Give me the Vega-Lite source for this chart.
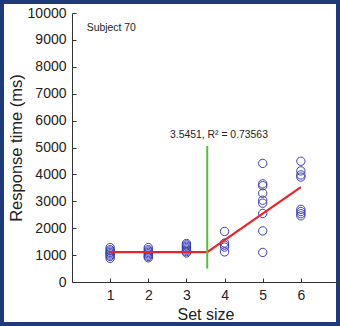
{
  "$schema": "https://vega.github.io/schema/vega-lite/v6.json",
  "width": 340,
  "height": 326,
  "autosize": {"type": "none"},
  "padding": 0,
  "background": "white",
  "config": {
    "view": {"fill": "white", "stroke": "#1f3a78", "strokeWidth": 8},
    "font": "Liberation Sans",
    "axis": {"grid": false, "labelOverlap": false, "domainColor": "#333", "tickColor": "#333", "labelColor": "#222", "titleColor": "#222", "titleFontWeight": "normal", "labelFont": "Liberation Sans", "titleFont": "Liberation Sans"}
  },
  "datasets": {
    "pts": [
      {"set": 1, "rt": 880}, {"set": 1, "rt": 950}, {"set": 1, "rt": 1000}, {"set": 1, "rt": 1050}, {"set": 1, "rt": 1100}, {"set": 1, "rt": 1150}, {"set": 1, "rt": 1200}, {"set": 1, "rt": 1280},
      {"set": 2, "rt": 900}, {"set": 2, "rt": 950}, {"set": 2, "rt": 1000}, {"set": 2, "rt": 1050}, {"set": 2, "rt": 1100}, {"set": 2, "rt": 1150}, {"set": 2, "rt": 1200}, {"set": 2, "rt": 1280},
      {"set": 3, "rt": 1080}, {"set": 3, "rt": 1130}, {"set": 3, "rt": 1180}, {"set": 3, "rt": 1230}, {"set": 3, "rt": 1280}, {"set": 3, "rt": 1330}, {"set": 3, "rt": 1380}, {"set": 3, "rt": 1430},
      {"set": 4, "rt": 1880}, {"set": 4, "rt": 1450}, {"set": 4, "rt": 1370}, {"set": 4, "rt": 1300}, {"set": 4, "rt": 1120},
      {"set": 5, "rt": 4410}, {"set": 5, "rt": 3650}, {"set": 5, "rt": 3580}, {"set": 5, "rt": 3300}, {"set": 5, "rt": 3040}, {"set": 5, "rt": 2930}, {"set": 5, "rt": 2550}, {"set": 5, "rt": 1900}, {"set": 5, "rt": 1100},
      {"set": 6, "rt": 4490}, {"set": 6, "rt": 4130}, {"set": 6, "rt": 3980}, {"set": 6, "rt": 3900}, {"set": 6, "rt": 2700}, {"set": 6, "rt": 2620}, {"set": 6, "rt": 2540}, {"set": 6, "rt": 2460}
    ],
    "fit": [
      {"set": 1, "rt": 1110}, {"set": 3.5451, "rt": 1110}, {"set": 6, "rt": 3530}
    ]
  },
  "encoding": {
    "x": {"type": "quantitative", "title": "Set size",
      "scale": {"domain": [0, 7], "range": [72, 339], "nice": false, "zero": false},
      "axis": {"orient": "bottom", "offset": -44, "values": [1, 2, 3, 4, 5, 6], "labelOverlap": false, "tickSize": -4, "labelPadding": 10, "labelFontSize": 14, "titleFontSize": 16, "titlePadding": 4}},
    "y": {"type": "quantitative", "title": "Response time (ms)",
      "scale": {"domain": [0, 10000], "range": [282, 13], "nice": false},
      "axis": {"orient": "left", "offset": -72, "values": [0, 1000, 2000, 3000, 4000, 5000, 6000, 7000, 8000, 9000, 10000], "format": "d", "labelOverlap": false, "labelFlush": false, "tickSize": -4, "labelPadding": 10, "labelFontSize": 14, "titleFontSize": 16.5, "titlePadding": 3}}
  },
  "layer": [
    {
      "data": {"name": "pts"},
      "mark": {"type": "point", "shape": "circle", "filled": false, "size": 70, "strokeWidth": 1, "color": "#3a3db5", "opacity": 1},
      "encoding": {
        "x": {"field": "set", "type": "quantitative"},
        "y": {"field": "rt", "type": "quantitative"}
      }
    },
    {
      "data": {"name": "fit"},
      "mark": {"type": "line", "color": "#e8262a", "strokeWidth": 2.2},
      "encoding": {
        "x": {"field": "set", "type": "quantitative"},
        "y": {"field": "rt", "type": "quantitative"}
      }
    },
    {
      "data": {"values": [{"bp": 3.5451, "lo": 500, "hi": 5060}]},
      "mark": {"type": "rule", "color": "#4fc43a", "strokeWidth": 2},
      "encoding": {
        "x": {"field": "bp", "type": "quantitative"},
        "y": {"field": "lo", "type": "quantitative"},
        "y2": {"field": "hi"}
      }
    },
    {
      "data": {"values": [{"tx": 3.853, "ty": 5350, "label": "3.5451, R² = 0.73563"}, {"tx": 1.03, "ty": 9330, "label": "Subject 70"}]},
      "mark": {"type": "text", "fontSize": 10.4, "color": "#222", "baseline": "alphabetic"},
      "encoding": {
        "x": {"field": "tx", "type": "quantitative"},
        "y": {"field": "ty", "type": "quantitative"},
        "text": {"field": "label"},
        "align": {"condition": {"test": "datum.label === 'Subject 70'", "value": "left"}, "value": "center"}
      }
    }
  ]
}
